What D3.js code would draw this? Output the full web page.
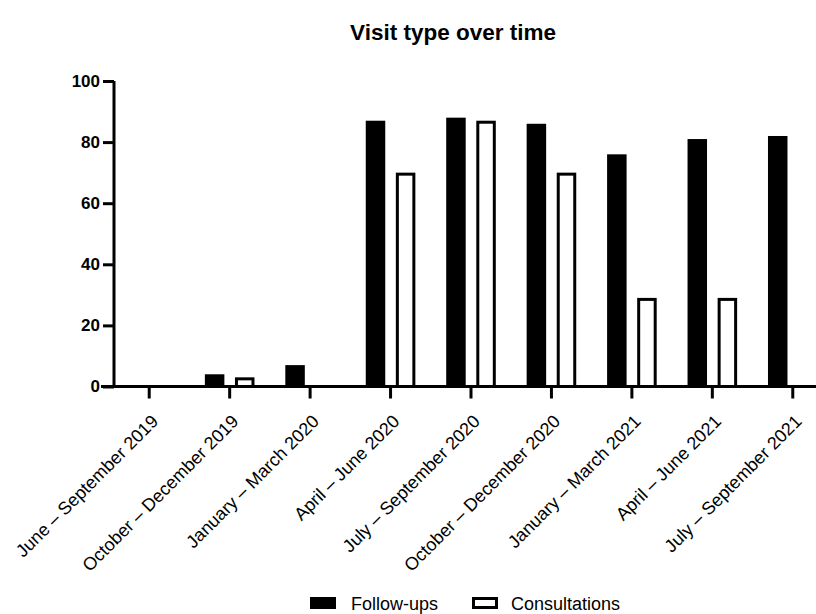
<!DOCTYPE html>
<html>
<head>
<meta charset="utf-8">
<script src="https://cdn.jsdelivr.net/npm/d3@7"></script>
<style>
  html, body { margin: 0; padding: 0; background: #fff; }
  svg { display: block; font-family: Arial, "Liberation Sans", Helvetica, sans-serif; }
</style>
</head>
<body>
<svg id="chart" width="816" height="614"></svg>
<script>
const categories = [
  "June – September 2019",
  "October – December 2019",
  "January – March 2020",
  "April – June 2020",
  "July – September 2020",
  "October – December 2020",
  "January – March 2021",
  "April – June 2021",
  "July – September 2021"
];
const seriesNames = ["Follow-ups", "Consultations"];
const followUps = [0, 4, 7, 87, 88, 86, 76, 81, 82];
const consultations = [0, 3, 0, 70, 87, 70, 29, 29, 0];
const yTicks = [0, 20, 40, 60, 80, 100];

const svg = d3.select("#chart");
const W = 816, H = 614;
const FONT = "Arial, 'Liberation Sans', sans-serif";

const x = d3.scaleBand().domain(categories).range([109, 833]).paddingInner(0).paddingOuter(0);
const xSub = d3.scaleBand().domain(seriesNames).range([-24.8, 24.8]).paddingInner(0.352);
const y = d3.scaleLinear().domain([0, 100]).range([386.5, 81]);

const data = categories.map((c, i) => ({ cat: c, values: [
  { key: "Follow-ups", v: followUps[i] },
  { key: "Consultations", v: consultations[i] }
]}));

// Title
svg.append("text")
  .attr("x", 453).attr("y", 40)
  .attr("text-anchor", "middle")
  .attr("font-size", 22.5).attr("font-weight", "bold")
  .attr("font-family", FONT)
  .text("Visit type over time");

// Bars
const groups = svg.append("g").selectAll("g").data(data).join("g")
  .attr("transform", d => `translate(${x(d.cat) + x.bandwidth() / 2},0)`);

groups.selectAll("rect").data(d => d.values.filter(v => v.v > 0)).join("rect")
  .attr("x", d => d.key === "Follow-ups" ? xSub(d.key) : xSub(d.key) + 1.5)
  .attr("width", d => d.key === "Follow-ups" ? xSub.bandwidth() : xSub.bandwidth() - 3)
  .attr("y", d => d.key === "Follow-ups" ? y(d.v) : y(d.v) + 1.5)
  .attr("height", d => d.key === "Follow-ups" ? y(0) - y(d.v) : Math.max(0, y(0) - y(d.v) - 1.5))
  .attr("fill", d => d.key === "Follow-ups" ? "#000" : "#fff")
  .attr("stroke", d => d.key === "Follow-ups" ? "none" : "#000")
  .attr("stroke-width", 3);

// Y axis
const yAxis = svg.append("g")
  .attr("transform", "translate(114,0)")
  .call(d3.axisLeft(y).tickValues(yTicks).tickSize(11).tickPadding(3).tickFormat(d3.format("d")));
yAxis.attr("font-size", null).attr("font-family", null);
yAxis.select(".domain").remove();
yAxis.selectAll(".tick line").attr("stroke", "#000").attr("stroke-width", 3);
yAxis.selectAll(".tick text")
  .attr("font-size", 17).attr("font-weight", "bold").attr("fill", "#000")
  .attr("font-family", FONT);
svg.append("line")
  .attr("x1", 114).attr("x2", 114)
  .attr("y1", y(100)).attr("y2", y(0) + 1.5)
  .attr("stroke", "#000").attr("stroke-width", 3);

// X axis
const xAxis = svg.append("g")
  .attr("transform", `translate(0,${y(0)})`)
  .call(d3.axisBottom(x).tickSize(12).tickSizeOuter(0));
xAxis.attr("font-size", null).attr("font-family", null);
xAxis.select(".domain").remove();
xAxis.selectAll(".tick line").attr("stroke", "#000").attr("stroke-width", 3);
xAxis.selectAll(".tick text")
  .attr("font-size", 18).attr("fill", "#000")
  .attr("font-family", FONT)
  .attr("text-anchor", "end")
  .attr("dy", null)
  .attr("y", null)
  .attr("transform", "translate(10,36) rotate(-45)");
svg.append("line")
  .attr("x1", 101).attr("x2", W)
  .attr("y1", y(0)).attr("y2", y(0))
  .attr("stroke", "#000").attr("stroke-width", 3);

// Legend
const legend = svg.append("g");
const legendItems = [
  { key: "Follow-ups", rx: 310, tx: 351 },
  { key: "Consultations", rx: 472, tx: 511 }
];
legendItems.forEach(it => {
  if (it.key === "Follow-ups") {
    legend.append("rect").attr("x", it.rx).attr("y", 597).attr("width", 26).attr("height", 12).attr("fill", "#000");
  } else {
    legend.append("rect").attr("x", it.rx + 1.5).attr("y", 598.5).attr("width", 23).attr("height", 9)
      .attr("fill", "#fff").attr("stroke", "#000").attr("stroke-width", 3);
  }
  legend.append("text").attr("x", it.tx).attr("y", 610)
    .attr("font-size", 18).attr("fill", "#000").attr("font-family", FONT).text(it.key);
});
</script>
</body>
</html>
